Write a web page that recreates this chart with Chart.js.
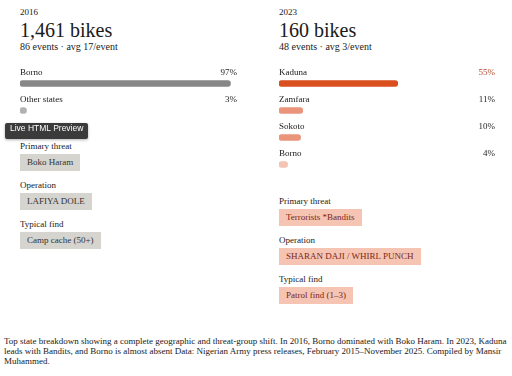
<!DOCTYPE html>
<html>
<head>
<meta charset="utf-8">
<script src="https://cdn.jsdelivr.net/npm/chart.js@4.4.1/dist/chart.umd.min.js"></script>
<style>
  html, body { margin: 0; padding: 0; background: #fff; }
  body { width: 512px; height: 376px; position: relative; overflow: hidden;
         font-family: "Liberation Serif", "DejaVu Serif", serif; color: #1a1a1a; }
  .abs { position: absolute; }
  .year { font-size: 9px; line-height: 12px; top: 6px; }
  .big { font-size: 20px; line-height: 20px; top: 20px; }
  .sub { font-size: 10px; line-height: 12px; top: 41px; }
  .lbl { font-size: 9px; line-height: 12px; margin-bottom: 2px; }
  .chip { display: block; width: fit-content; font-size: 9px; height: 17px; line-height: 17px;
          padding: 0 7px; margin-bottom: 8px; }
  .gray { background: #d6d4ce; color: #333; }
  .salmon { background: #f6c4b2; color: #7a2716; }
  .caption { left: 4px; top: 336px; width: 508px; font-size: 9px; line-height: 10px; }
  .preview { left: 5px; top: 123px; height: 16px; line-height: 16px; padding: 0 5px;
             background: #3b3b3b; color: #fff; font: 8.5px "Liberation Sans", sans-serif;
             border-radius: 2px; box-shadow: 0 1px 3px rgba(0,0,0,.3); }
</style>
</head>
<body>

<!-- 2016 -->
<div class="abs year" style="left:20px">2016</div>
<div class="abs big" style="left:20px">1,461 bikes</div>
<div class="abs sub" style="left:20px">86 events · avg 17/event</div>
<div class="abs" style="left:20px; top:56px; width:217px; height:68px"><canvas id="chart2016"></canvas></div>
<div class="abs" style="left:20px; top:140px">
  <div class="lbl">Primary threat</div><span class="chip gray">Boko Haram</span>
  <div class="lbl">Operation</div><span class="chip gray">LAFIYA DOLE</span>
  <div class="lbl">Typical find</div><span class="chip gray">Camp cache (50+)</span>
</div>

<!-- 2023 -->
<div class="abs year" style="left:279px">2023</div>
<div class="abs big" style="left:279px">160 bikes</div>
<div class="abs sub" style="left:279px">48 events · avg 3/event</div>
<div class="abs" style="left:279px; top:56px; width:216px; height:122px"><canvas id="chart2023"></canvas></div>
<div class="abs" style="left:279px; top:195px">
  <div class="lbl">Primary threat</div><span class="chip salmon">Terrorists *Bandits</span>
  <div class="lbl">Operation</div><span class="chip salmon">SHARAN DAJI / WHIRL PUNCH</span>
  <div class="lbl">Typical find</div><span class="chip salmon">Patrol find (1–3)</span>
</div>

<div class="abs caption">Top state breakdown showing a complete geographic and threat-group shift. In 2016, Borno dominated with Boko Haram. In 2023, Kaduna leads with Bandits, and Borno is almost absent Data: Nigerian Army press releases, February 2015–November 2025. Compiled by Mansir Muhammed.</div>

<div class="abs preview">Live HTML Preview</div>

<script>
// share of bikes recovered by state (%)
const states2016 = ['Borno', 'Other states'];
const shares2016 = [97, 3];
const states2023 = ['Kaduna', 'Zamfara', 'Sokoto', 'Borno'];
const shares2023 = [55, 11, 10, 4];

const colors2016 = ['#878787', '#b2b2b2'];
const colors2023 = ['#d9501e', '#e9947b', '#e9947b', '#f4c3b3'];
const pctColors2016 = ['#222', '#222'];
const pctColors2023 = ['#b4452a', '#222', '#222', '#222'];

// row label on the left, percent on the right, above each bar
const rowLabels = {
  id: 'rowLabels',
  afterDatasetsDraw(chart, args, opts) {
    const { ctx, chartArea } = chart;
    const meta = chart.getDatasetMeta(0);
    ctx.save();
    ctx.font = '9px "Liberation Serif", serif';
    ctx.textBaseline = 'middle';
    meta.data.forEach((bar, i) => {
      const y = bar.y - 11;
      ctx.fillStyle = '#1a1a1a';
      ctx.textAlign = 'left';
      ctx.fillText(chart.data.labels[i], chartArea.left, y);
      ctx.fillStyle = opts.pctColors[i];
      ctx.textAlign = 'right';
      ctx.fillText(chart.data.datasets[0].data[i] + '%', chartArea.right, y);
    });
    ctx.restore();
  }
};

function shareChart(id, labels, values, colors, pctColors) {
  return new Chart(document.getElementById(id), {
    type: 'bar',
    data: {
      labels: labels,
      datasets: [{
        data: values,
        backgroundColor: colors,
        borderRadius: 3,
        borderSkipped: false,
        barThickness: 6
      }]
    },
    options: {
      indexAxis: 'y',
      responsive: true,
      maintainAspectRatio: false,
      animation: false,
      layout: { padding: { top: 14, left: 0, right: 0, bottom: 0 } },
      scales: {
        x: { display: false, min: 0, max: 100 },
        y: { display: false }
      },
      plugins: {
        legend: { display: false },
        tooltip: { enabled: false },
        rowLabels: { pctColors: pctColors }
      }
    },
    plugins: [rowLabels]
  });
}

shareChart('chart2016', states2016, shares2016, colors2016, pctColors2016);
shareChart('chart2023', states2023, shares2023, colors2023, pctColors2023);
</script>
</body>
</html>
